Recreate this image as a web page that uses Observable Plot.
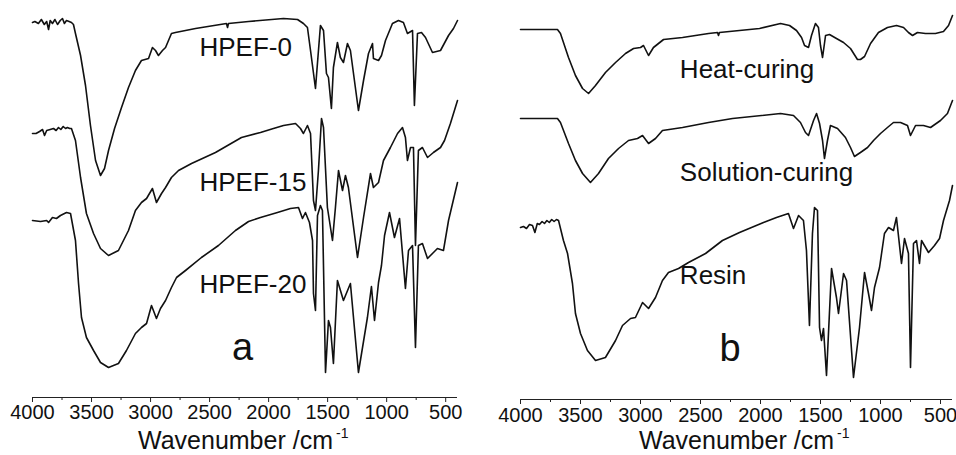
<!DOCTYPE html>
<html><head><meta charset="utf-8">
<script src="https://cdn.jsdelivr.net/npm/d3@7"></script>
<script src="https://cdn.jsdelivr.net/npm/@observablehq/plot@0.6"></script>
<style>
body{margin:0;background:#fff}
#wrap{display:flex;width:956px;height:455px;overflow:hidden}
#wrap svg{flex:none}
</style>
</head><body><div id="wrap"></div>
<script>
// ---- data: [wavenumber (cm^-1), transmittance (a.u., offset-stacked)] ----
const hpef0 = [[4000,378],[3980,379],[3950,377],[3925,381],[3900,376],[3880,379],[3864,371],[3850,380],[3831,377],[3810,381],[3788,376],[3765,380],[3746,382],[3730,377],[3712,380],[3690,379],[3670,378],[3653,376],[3636,367],[3593,345],[3551,315],[3509,275],[3466,240],[3424,225],[3390,232],[3356,250],[3305,272],[3246,293],[3187,313],[3128,330],[3077,340],[3017,342],[2984,353],[2958,350],[2933,345],[2899,350],[2873,353],[2823,367],[2789,368],[2619,372],[2357,377],[2348,373],[2340,377],[2170,379],[1874,382],[1755,381],[1705,377],[1671,373],[1645,350],[1603,312],[1561,375],[1535,370],[1510,327],[1493,323],[1468,292],[1451,333],[1417,358],[1392,343],[1366,338],[1332,357],[1307,350],[1239,290],[1196,320],[1154,347],[1120,357],[1112,342],[1069,340],[1044,345],[1010,360],[951,377],[900,380],[858,378],[824,367],[781,370],[765,295],[739,367],[705,368],[671,363],[612,348],[544,350],[476,365],[434,372],[400,380]];
const hpef15 = [[4000,267],[3970,267],[3940,269],[3915,271],[3898,265],[3880,270],[3850,271],[3822,272],[3800,270],[3780,273],[3760,271],[3740,274],[3720,272],[3704,273],[3685,272],[3670,272],[3636,260],[3593,223],[3543,187],[3483,167],[3424,152],[3356,145],[3272,150],[3187,170],[3128,190],[3077,198],[3034,202],[2984,212],[2950,198],[2907,207],[2873,213],[2823,223],[2763,230],[2653,237],[2450,248],[2230,263],[2069,268],[1959,272],[1874,275],[1772,277],[1730,272],[1705,267],[1671,275],[1645,267],[1620,200],[1603,190],[1578,230],[1552,282],[1535,273],[1502,193],[1459,160],[1434,193],[1408,230],[1374,210],[1349,225],[1324,213],[1247,143],[1196,183],[1137,227],[1112,213],[1069,218],[1027,240],[968,253],[908,267],[866,273],[841,263],[824,240],[798,253],[773,253],[756,155],[731,250],[697,253],[654,243],[604,248],[544,253],[510,260],[460,277],[400,300]];
const hpef20 = [[4000,180],[3932,179],[3880,180],[3864,178],[3831,183],[3797,182],[3763,185],[3712,188],[3678,187],[3636,160],[3610,117],[3585,83],[3543,63],[3483,50],[3424,38],[3356,33],[3272,37],[3204,50],[3128,67],[3077,73],[3034,77],[2992,95],[2950,82],[2916,92],[2873,100],[2823,113],[2780,123],[2704,130],[2569,143],[2425,155],[2281,170],[2170,179],[2069,183],[1925,188],[1815,192],[1747,193],[1713,182],[1688,188],[1654,178],[1628,160],[1620,107],[1603,90],[1586,185],[1561,195],[1544,190],[1518,28],[1493,80],[1476,73],[1451,37],[1417,120],[1366,100],[1307,117],[1239,28],[1163,83],[1129,114],[1103,80],[1069,118],[1044,135],[1018,165],[976,188],[934,163],[891,182],[841,112],[815,150],[781,155],[756,53],[731,155],[697,157],[654,142],[612,147],[570,152],[519,150],[476,180],[400,218]];

const heatCuring = [[4000,371],[3833,371],[3692,371],[3667,367],[3600,343],[3542,325],[3483,312],[3433,307],[3375,315],[3292,328],[3208,338],[3125,347],[3058,352],[3000,353],[2975,355],[2933,345],[2892,353],[2850,357],[2808,361],[2650,363],[2433,367],[2358,368],[2350,365],[2342,368],[2008,372],[1833,377],[1758,375],[1700,370],[1658,363],[1633,355],[1600,353],[1575,365],[1542,377],[1517,373],[1500,355],[1483,343],[1458,365],[1425,366],[1367,362],[1308,358],[1250,352],[1192,341],[1167,341],[1133,344],[1083,357],[1017,368],[942,373],[867,375],[808,373],[767,368],[733,365],[692,368],[625,367],[542,367],[475,369],[433,375],[400,385]];
const solutionCuring = [[4000,282],[3833,282],[3692,282],[3667,278],[3600,257],[3542,240],[3483,227],[3417,218],[3350,227],[3267,242],[3183,252],[3100,260],[3025,262],[2983,265],[2933,257],[2875,262],[2817,270],[2650,273],[2433,278],[2233,282],[1833,287],[1725,285],[1667,278],[1625,268],[1600,265],[1558,280],[1533,287],[1508,277],[1483,260],[1467,242],[1442,260],[1417,275],[1358,272],[1292,263],[1250,253],[1217,244],[1167,248],[1108,253],[1058,260],[1000,267],[942,273],[892,278],[833,278],[775,275],[750,265],[708,275],[642,275],[583,273],[500,280],[442,287],[400,300]];
const resin = [[4000,173],[3975,174],[3950,172],[3925,176],[3900,175],[3880,168],[3860,177],[3842,176],[3820,179],[3800,177],[3780,180],[3760,178],[3740,181],[3720,179],[3700,181],[3683,180],[3642,160],[3608,147],[3567,117],[3542,87],[3500,67],[3442,50],[3375,40],[3292,43],[3208,60],[3150,75],[3083,82],[3042,83],[2983,98],[2933,92],[2875,103],[2817,120],[2767,128],[2683,132],[2600,138],[2458,147],[2317,160],[2175,168],[1975,178],[1867,183],[1767,187],[1725,172],[1683,185],[1642,180],[1617,150],[1592,75],[1567,167],[1550,193],[1525,190],[1508,73],[1492,60],[1475,72],[1450,25],[1408,132],[1367,103],[1350,87],[1308,127],[1283,120],[1225,23],[1175,73],[1133,128],[1100,107],[1075,90],[1050,113],[1008,133],[967,167],[933,173],[892,170],[867,183],[825,137],[800,162],[767,147],[750,33],[725,157],[700,160],[675,137],[658,160],[600,148],[550,155],[508,162],[475,180],[425,200],[400,215]];

const seriesA = [hpef0, hpef15, hpef20];
const seriesB = [heatCuring, solutionCuring, resin];
const namesA = ["HPEF-0", "HPEF-15", "HPEF-20"];
const namesB = ["Heat-curing", "Solution-curing", "Resin"];
// label anchors in data units [wavenumber, transmittance]
const anchorsA = [[2586,345],[2586,210],[2586,108]];
const anchorsB = [[2672,323],[2672,220],[2672,117]];
const panelLetters = ["a", "b"];
const letterAnchors = [[2221,41],[2254,40]];
const majorTicks = [4000,3500,3000,2500,2000,1500,1000,500];
const minorTicks = [3750,3250,2750,2250,1750,1250,750];
const xTitle = "Wavenumber /cm";
const xTitleSup = "-1";

const FONT = "'Liberation Sans', Arial, Helvetica, sans-serif";

function panel(series, names, anchors, letter, letterAnchor, cfg) {
  const marks = [
    Plot.ruleY([cfg.yMin], {stroke: "#222", strokeWidth: 1.2}),
    Plot.axisX(majorTicks, {tickSize: 5, tickPadding: cfg.tickPadding, fontSize: 20, tickFormat: d => String(d), label: null, stroke: "#222", fill: "#111"}),
    Plot.axisX(minorTicks, {tickSize: 3, tickFormat: () => "", label: null, stroke: "#222"}),
    ...series.map(s => Plot.line(s, {x: d => d[0], y: d => d[1], stroke: "#111", strokeWidth: 1.6, strokeLinejoin: "round"})),
    Plot.text(names, {x: (d, i) => anchors[i][0], y: (d, i) => anchors[i][1], text: d => d, textAnchor: "start", lineAnchor: "bottom", fontSize: 26, fill: "#111"}),
    Plot.text([letter], {x: letterAnchor[0], y: letterAnchor[1], text: d => d, textAnchor: "middle", lineAnchor: "bottom", fontSize: 38, fill: "#111"})
  ];
  const svg = Plot.plot({
    width: 478, height: 455,
    marginLeft: cfg.ml, marginRight: cfg.mr, marginTop: 0, marginBottom: cfg.mb,
    style: {fontFamily: FONT, background: "#fff", color: "#111"},
    x: {domain: [4000, 400], label: null},
    y: {domain: [cfg.yMin, 400], axis: null, label: null},
    marks
  });
  const t = d3.select(svg).append("text")
    .attr("x", cfg.titleX).attr("y", cfg.titleY)
    .attr("text-anchor", "start")
    .attr("font-family", FONT).attr("font-size", 25).attr("fill", "#111");
  t.append("tspan").text(xTitle);
  t.append("tspan").attr("dx", 3).attr("dy", -11).attr("font-size", 14).text(xTitleSup);
  return svg;
}

const wrap = document.getElementById("wrap");
wrap.appendChild(panel(seriesA, namesA, anchorsA, panelLetters[0], letterAnchors[0],
  {ml: 32, mr: 21, mb: 58, yMin: 3, tickPadding: 2, titleX: 138, titleY: 449}));
wrap.appendChild(panel(seriesB, namesB, anchorsB, panelLetters[1], letterAnchors[1],
  {ml: 42, mr: 4, mb: 56, yMin: 1, tickPadding: 3, titleX: 161, titleY: 449}));
</script></body></html>
